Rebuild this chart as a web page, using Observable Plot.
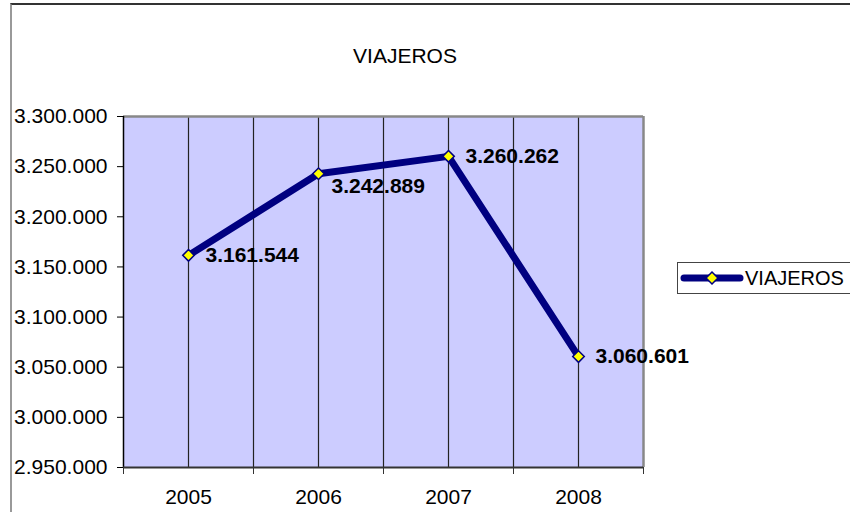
<!DOCTYPE html>
<html>
<head>
<meta charset="utf-8">
<script src="https://cdn.jsdelivr.net/npm/d3@7"></script>
<script src="https://cdn.jsdelivr.net/npm/@observablehq/plot@0.6"></script>
<style>
  html, body { margin: 0; padding: 0; background: #fff; }
  #wrap { position: relative; width: 850px; height: 512px; overflow: hidden; font-family: "Liberation Sans", Arial, sans-serif; }
  #frame { position: absolute; left: 10px; top: 3px; width: 850px; height: 520px; border-top: 2px solid #333; border-left: 2px solid #999; box-sizing: border-box; pointer-events: none; }
  #title { height: 80px; box-sizing: border-box; padding-top: 44px; padding-right: 40px; text-align: center; font-size: 21px; color: #000; line-height: 24px; }
  #legend { position: absolute; left: 677px; top: 262px; width: 200px; height: 32px; box-sizing: border-box; border: 1.5px solid #444; background: #fff; display: flex; align-items: center; }
  #legend span { font-size: 20px; color: #000; margin-left: 1px; }
  #chart svg { display: block; }
</style>
</head>
<body>
<div id="wrap">
  <div id="title">VIAJEROS</div>
  <div id="chart"></div>
  <div id="legend"></div>
  <div id="frame"></div>
</div>
<script>
// ---- data ----
const years = [2005, 2006, 2007, 2008];
const viajeros = [3161544, 3242889, 3260262, 3060601];
const yTicks = [2950000, 3000000, 3050000, 3100000, 3150000, 3200000, 3250000, 3300000];
const seriesName = "VIAJEROS";

const data = years.map((year, i) => ({year, value: viajeros[i]}));
const bounds = [...years.map(y => y - 0.5), years[years.length - 1] + 0.5];
const xDomain = [bounds[0], bounds[bounds.length - 1]];
const yDomain = [yTicks[0], yTicks[yTicks.length - 1]];

const locale = d3.formatLocale({decimal: ",", thousands: ".", grouping: [3], currency: ["", "€"]});
const fmt = locale.format(",d");

const navy = "#000080";
const font = "Liberation Sans, Arial, sans-serif";

const labelMark = (i, dx, dy) => Plot.text([data[i]], {
  x: "year", y: "value", text: d => fmt(d.value),
  textAnchor: "start", dx, dy, fontSize: 21, fontWeight: "bold", fill: "#000"
});

const chart = Plot.plot({
  width: 850,
  height: 432,
  marginLeft: 123,
  marginRight: 207,
  marginTop: 36,
  marginBottom: 45,
  style: {fontFamily: font, background: "transparent", overflow: "visible"},
  x: {type: "linear", domain: xDomain},
  y: {domain: yDomain},
  marks: [
    Plot.frame({fill: "#CCCCFF", stroke: "none"}),
    Plot.ruleX(years, {stroke: "#222", strokeWidth: 1.2}),
    Plot.ruleX(bounds.slice(1, -1), {stroke: "#222", strokeWidth: 1.2}),
    Plot.ruleY([yDomain[1]], {stroke: "#888", strokeWidth: 2.5}),
    Plot.ruleX([xDomain[1]], {stroke: "#888", strokeWidth: 2.5}),
    Plot.ruleX([xDomain[0]], {stroke: "#000", strokeWidth: 1.5}),
    Plot.ruleY([yDomain[0]], {stroke: "#333", strokeWidth: 2}),
    Plot.axisY({ticks: yTicks, tickFormat: fmt, tickSize: 6, tickPadding: 10, fontSize: 21, color: "#000", label: null}),
    Plot.axisX({ticks: years, tickFormat: d => String(d), tickSize: 0, tickPadding: 22, fontSize: 21, color: "#000", label: null}),
    Plot.axisX({ticks: bounds, tickFormat: () => "", tickSize: 7, label: null, stroke: "#333"}),
    Plot.line(data, {x: "year", y: "value", stroke: navy, strokeWidth: 7, strokeLinejoin: "miter"}),
    Plot.dot(data, {x: "year", y: "value", symbol: "diamond2", r: 5.2, fill: "#FFFF00", stroke: navy, strokeWidth: 1.5}),
    labelMark(0, 17, 0),
    labelMark(1, 13, 12),
    labelMark(2, 17, 0),
    labelMark(3, 17, 0)
  ]
});
document.getElementById("chart").appendChild(chart);

// legend
const lg = document.getElementById("legend");
const sw = d3.create("svg").attr("width", 66).attr("height", 30).style("display", "block");
sw.append("line").attr("x1", 6).attr("x2", 62).attr("y1", 15).attr("y2", 15)
  .attr("stroke", navy).attr("stroke-width", 7).attr("stroke-linecap", "round");
sw.append("path").attr("d", d3.symbol(d3.symbolDiamond2, 90)())
  .attr("transform", "translate(34,15)").attr("fill", "#FFFF00").attr("stroke", navy).attr("stroke-width", 1.5);
lg.appendChild(sw.node());
const sp = document.createElement("span");
sp.textContent = seriesName;
lg.appendChild(sp);
</script>
</body>
</html>
